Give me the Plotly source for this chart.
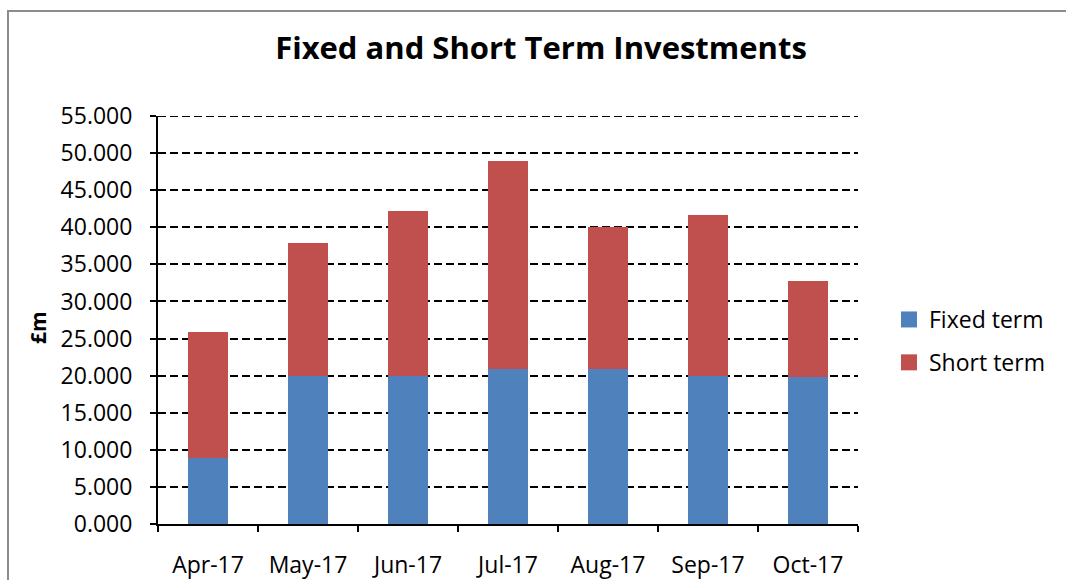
import plotly.graph_objects as go

# Monthly investment balances (£m)
months = ["Apr-17", "May-17", "Jun-17", "Jul-17", "Aug-17", "Sep-17", "Oct-17"]
fixed_term = [8.9, 20.0, 20.0, 20.9, 20.9, 20.0, 19.8]
short_term = [17.0, 17.9, 22.2, 28.0, 19.2, 21.6, 13.0]
y_ticks = [0, 5, 10, 15, 20, 25, 30, 35, 40, 45, 50, 55]

FONT = "Open Sans"
BLUE = "#4F81BD"
RED = "#C0504D"

fig = go.Figure()
fig.add_trace(go.Bar(x=months, y=fixed_term, name="Fixed term",
                     marker=dict(color=BLUE, line=dict(width=0)),
                     showlegend=False))
fig.add_trace(go.Bar(x=months, y=short_term, name="Short term",
                     marker=dict(color=RED, line=dict(width=0)),
                     showlegend=False))

# Legend keys drawn as larger square swatches
for name, colour, grp in [("Fixed term", BLUE, "a"), ("Short term", RED, "b")]:
    fig.add_trace(go.Scatter(x=[None], y=[None], mode="markers", name=name,
                             marker=dict(symbol="square", size=17, color=colour),
                             legendgroup=grp, showlegend=True))

L, R, T, B = 158, 208, 116, 56
W, H = 1066, 580
pw, ph = W - L - R, H - T - B

def px_x(p):
    return (p - L) / pw

def px_y(p):
    return (H - B - p) / ph

y_max = y_ticks[-1]

fig.update_layout(
    template="none",
    width=W, height=H,
    margin=dict(l=L, r=R, t=T, b=B, pad=0),
    paper_bgcolor="white", plot_bgcolor="white",
    barmode="stack", bargap=0.6,
    font=dict(family=FONT, size=22, color="#000000"),
    title=dict(text="<b>Fixed and Short Term Investments</b>",
               font=dict(family=FONT, size=31, color="#000000"),
               xref="container", x=541 / W, xanchor="center",
               yref="container", y=1 - 48 / H, yanchor="middle"),
    showlegend=True,
    legend=dict(x=px_x(889), xanchor="left", y=px_y(341), yanchor="middle",
                traceorder="grouped", tracegroupgap=10,
                font=dict(family=FONT, size=23, color="#000000"),
                bgcolor="rgba(0,0,0,0)", borderwidth=0),
    xaxis=dict(type="category", showline=True, linecolor="#000000", linewidth=2,
               ticks="outside", tickson="boundaries", ticklen=6, tickwidth=1.5,
               tickcolor="#000000", showgrid=False, zeroline=False,
               automargin=False,
               tickfont=dict(family=FONT, size=23), ticklabelstandoff=19),
    yaxis=dict(range=[0, y_max], tickvals=y_ticks, tickformat=".3f",
               showline=True, linecolor="#000000", linewidth=2,
               ticks="outside", ticklen=6, tickwidth=1.5, tickcolor="#000000",
               showgrid=True, gridcolor="#000000", gridwidth=2,
               griddash="8px,4px", zeroline=False, automargin=False,
               tickfont=dict(family=FONT, size=23), ticklabelstandoff=13),
    annotations=[dict(text="<b>£m</b>", textangle=-90, showarrow=False,
                      xref="paper", yref="paper", x=px_x(38), y=px_y(328),
                      xanchor="center", yanchor="middle",
                      font=dict(family=FONT, size=21, color="#000000"))],
    shapes=[
        # outer chart border
        dict(type="rect", xref="paper", yref="paper",
             x0=px_x(8), x1=px_x(1100), y0=px_y(640), y1=px_y(11),
             line=dict(color="#8C8C8C", width=2), layer="below"),
        # top gridline along the upper edge of the plot area
        dict(type="line", xref="paper", yref="y", x0=0, x1=1,
             y0=y_max, y1=y_max,
             line=dict(color="#000000", width=2, dash="8px,4px"), layer="below"),
    ],
)

fig.write_html("out.html")
